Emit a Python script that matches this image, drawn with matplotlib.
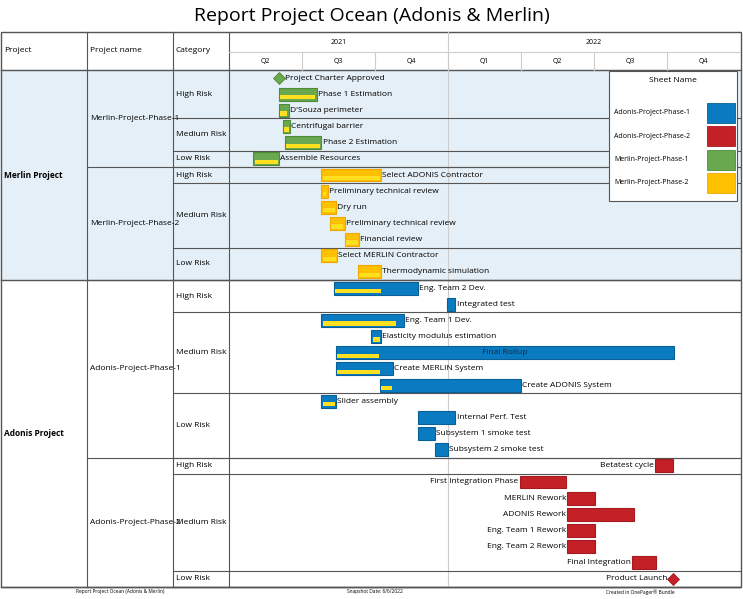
import matplotlib

matplotlib.use("Agg")

import matplotlib.pyplot as plt
from matplotlib.patches import Rectangle

plt.rcParams["font.family"] = ["Open Sans", "DejaVu Sans"]

W, H = 743, 599
TOP, BOT = 70, 587
X0, X1 = 229, 740
N_MONTHS = 21  # Apr 2021 .. Dec 2022

QUARTERS = ["Q2", "Q3", "Q4", "Q1", "Q2", "Q3", "Q4"]
YEARS = ["2021", "2022"]

COLORS = {
    "Adonis-Project-Phase-1": "#0a7bc1",
    "Adonis-Project-Phase-2": "#c42027",
    "Merlin-Project-Phase-1": "#6aa84f",
    "Merlin-Project-Phase-2": "#ffc000",
}
EDGES = {
    "Adonis-Project-Phase-1": "#0a5f96",
    "Adonis-Project-Phase-2": "#a31a20",
    "Merlin-Project-Phase-1": "#4f8a37",
    "Merlin-Project-Phase-2": "#f0a800",
}

# (project, phase, category, tasks); task = (name, start, end, progress_end, label_side)
# start/end in months since 1 Apr 2021; end None = milestone
merlin_p1_high = [("Project Charter Approved", 2.05, None, None, "r"),
                  ("Phase 1 Estimation", 2.05, 3.6, 3.6, "r"),
                  ("D'Souza perimeter", 2.05, 2.45, 2.45, "r")]
merlin_p1_med = [("Centrifugal barrier", 2.2, 2.5, 2.5, "r"),
                 ("Phase 2 Estimation", 2.3, 3.8, 3.8, "r")]
merlin_p1_low = [("Assemble Resources", 1.0, 2.05, 2.05, "r")]
merlin_p2_high = [("Select ADONIS Contractor", 3.8, 6.25, 6.25, "r")]
merlin_p2_med = [("Preliminary technical review", 3.8, 4.05, 4.05, "r"),
                 ("Dry run", 3.8, 4.4, 4.4, "r"),
                 ("Preliminary technical review", 4.15, 4.75, 4.75, "r"),
                 ("Financial review", 4.75, 5.35, 5.35, "r")]
merlin_p2_low = [("Select MERLIN Contractor", 3.8, 4.45, 4.45, "r"),
                 ("Thermodynamic simulation", 5.3, 6.25, 6.25, "r")]
adonis_p1_high = [("Eng. Team 2 Dev.", 4.3, 7.75, 6.3, "r"),
                  ("Integrated test", 8.95, 9.3, None, "r")]
adonis_p1_med = [("Eng. Team 1 Dev.", 3.8, 7.2, 6.9, "r"),
                 ("Elasticity modulus estimation", 5.85, 6.25, 6.25, "r"),
                 ("Final Rollup", 4.4, 18.3, 6.2, "c"),
                 ("Create MERLIN System", 4.4, 6.75, 6.25, "r"),
                 ("Create ADONIS System", 6.2, 12.0, 6.75, "r")]
adonis_p1_low = [("Slider assembly", 3.8, 4.4, 4.4, "r"),
                 ("Internal Perf. Test", 7.75, 9.3, None, "r"),
                 ("Subsystem 1 smoke test", 7.75, 8.45, None, "r"),
                 ("Subsystem 2 smoke test", 8.45, 9.0, None, "r")]
adonis_p2_high = [("Betatest cycle", 17.5, 18.25, None, "l")]
adonis_p2_med = [("First Integration Phase", 11.95, 13.85, None, "l"),
                 ("MERLIN Rework", 13.9, 15.05, None, "l"),
                 ("ADONIS Rework", 13.9, 16.65, None, "l"),
                 ("Eng. Team 1 Rework", 13.9, 15.05, None, "l"),
                 ("Eng. Team 2 Rework", 13.9, 15.05, None, "l"),
                 ("Final Integration", 16.55, 17.55, None, "l")]
adonis_p2_low = [("Product Launch", 18.25, None, None, "l")]

GROUPS = [
    ("Merlin Project", "Merlin-Project-Phase-1", "High Risk", merlin_p1_high),
    ("Merlin Project", "Merlin-Project-Phase-1", "Medium Risk", merlin_p1_med),
    ("Merlin Project", "Merlin-Project-Phase-1", "Low Risk", merlin_p1_low),
    ("Merlin Project", "Merlin-Project-Phase-2", "High Risk", merlin_p2_high),
    ("Merlin Project", "Merlin-Project-Phase-2", "Medium Risk", merlin_p2_med),
    ("Merlin Project", "Merlin-Project-Phase-2", "Low Risk", merlin_p2_low),
    ("Adonis Project", "Adonis-Project-Phase-1", "High Risk", adonis_p1_high),
    ("Adonis Project", "Adonis-Project-Phase-1", "Medium Risk", adonis_p1_med),
    ("Adonis Project", "Adonis-Project-Phase-1", "Low Risk", adonis_p1_low),
    ("Adonis Project", "Adonis-Project-Phase-2", "High Risk", adonis_p2_high),
    ("Adonis Project", "Adonis-Project-Phase-2", "Medium Risk", adonis_p2_med),
    ("Adonis Project", "Adonis-Project-Phase-2", "Low Risk", adonis_p2_low),
]
LEGEND = ["Adonis-Project-Phase-1", "Adonis-Project-Phase-2",
          "Merlin-Project-Phase-1", "Merlin-Project-Phase-2"]

n_rows = sum(len(g[3]) for g in GROUPS)
row_h = (BOT - TOP) / n_rows
LINE = "#555555"

fig = plt.figure(figsize=(W / 100, H / 100), dpi=100)
base = fig.add_axes([0, 0, 1, 1])
base.set_xlim(0, W)
base.set_ylim(H, 0)
base.axis("off")

base.text(W / 2, 16, "Report Project Ocean (Adonis & Merlin)", ha="center", va="center", fontsize=14)

# header
base.add_patch(Rectangle((1, 32), W - 3, BOT - 32, fill=False, ec=LINE, lw=1))
base.plot([1, W - 2], [TOP, TOP], color=LINE, lw=1)
for x in (87, 173, X0):
    base.plot([x, x], [32, BOT], color=LINE, lw=0.8)
base.text(4, 51, "Project", fontsize=6, va="center")
base.text(90, 51, "Project name", fontsize=6, va="center")
base.text(176, 51, "Category", fontsize=6, va="center")
qw = (X1 - X0) / len(QUARTERS)
base.plot([X0, X1], [52, 52], color="#cccccc", lw=0.8)
for i, q in enumerate(QUARTERS):
    base.text(X0 + qw * (i + 0.5), 61, q, ha="center", va="center", fontsize=5)
    if i:
        base.plot([X0 + qw * i, X0 + qw * i], [52, TOP], color="#cccccc", lw=0.8)
base.text(X0 + qw * 1.5, 42, YEARS[0], ha="center", va="center", fontsize=5)
base.text(X0 + qw * 5, 42, YEARS[1], ha="center", va="center", fontsize=5)
base.plot([X0 + qw * 3] * 2, [32, BOT], color="#cccccc", lw=0.8)

# left table
r = 0
spans = {}
for proj, phase, cat, tasks in GROUPS:
    y0 = TOP + r * row_h
    y1 = y0 + len(tasks) * row_h
    if proj == "Merlin Project":
        base.add_patch(Rectangle((1, y0), X1 - 1, y1 - y0, color="#e4eff7", zorder=0))
    base.plot([173, X1], [y1, y1], color=LINE, lw=0.8)
    base.text(176, (y0 + y1) / 2, cat, fontsize=6, va="center")
    for key in (proj, phase):
        a, b = spans.get(key, (y0, y1))
        spans[key] = (min(a, y0), max(b, y1))
    r += len(tasks)
for key, (a, b) in spans.items():
    if key.endswith("Project"):
        base.plot([1, X1], [b, b], color=LINE, lw=1)
        base.text(4, (a + b) / 2, key, fontsize=6, va="center", fontweight="bold")
    else:
        base.plot([87, X1], [b, b], color=LINE, lw=0.8)
        base.text(90, (a + b) / 2, key, fontsize=6, va="center")

# gantt area
ax = fig.add_axes([X0 / W, 1 - BOT / H, (X1 - X0) / W, (BOT - TOP) / H])
ax.set_xlim(0, N_MONTHS)
ax.set_ylim(n_rows, 0)
ax.axis("off")
ax.patch.set_alpha(0)

r = 0
for proj, phase, cat, tasks in GROUPS:
    col, edge = COLORS[phase], EDGES[phase]
    for name, s, e, prog, side in tasks:
        yc = r + 0.5
        if e is None:
            ax.plot(s, yc, marker="D", ms=6, color=col, mec=edge, mew=0.6)
            end = s + 0.2
            start = s - 0.2
        else:
            ax.add_patch(Rectangle((s, r + 0.1), e - s, 0.8, fc=col, ec=edge, lw=0.8))
            if prog is not None:
                ax.add_patch(Rectangle((s + 0.05, r + 0.55), prog - s - 0.1, 0.27, fc="#ffe020", lw=0))
            end, start = e, s
        if side == "r":
            ax.text(end + 0.05, yc, name, fontsize=6, va="center", ha="left")
        elif side == "l":
            ax.text(start - 0.05, yc, name, fontsize=6, va="center", ha="right")
        else:
            ax.text((s + e) / 2, yc, name, fontsize=6, va="center", ha="center", color="#0b2a45")
        r += 1

# legend
base.add_patch(Rectangle((609, 71), 128, 130, fc="white", ec=LINE, lw=0.8, zorder=3))
base.text(673, 81, "Sheet Name", fontsize=6, ha="center", va="center", zorder=4)
for i, name in enumerate(LEGEND):
    y = 113 + i * 23.3
    base.text(614, y, name, fontsize=5, va="center", zorder=4)
    base.add_patch(Rectangle((707, y - 10), 28, 20, fc=COLORS[name], ec=EDGES[name], lw=0.6, zorder=4))

# footer
for x, t in [(120, "Report Project Ocean (Adonis & Merlin)"), (375, "Snapshot Date: 6/6/2022"),
             (640, "Created in OnePager® Bundle")]:
    base.text(x, 592, t, fontsize=3.5, ha="center", va="center")

fig.savefig("out.png", dpi=100)
